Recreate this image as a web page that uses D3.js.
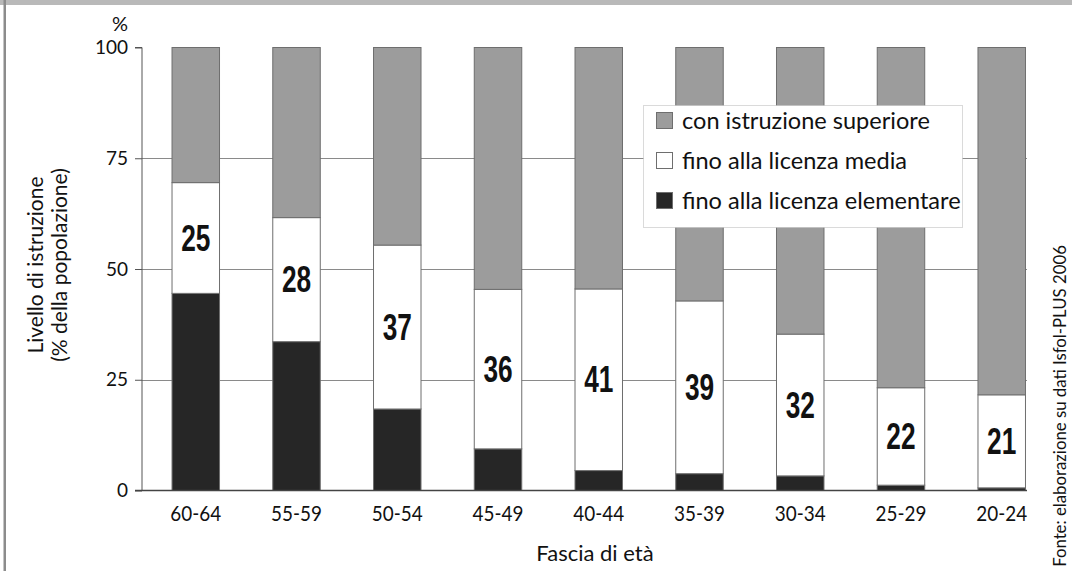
<!DOCTYPE html>
<html>
<head>
<meta charset="utf-8">
<script src="https://cdn.jsdelivr.net/npm/d3@7"></script>
<style>
  html, body { margin: 0; padding: 0; background: #fff; }
  svg { display: block; }
  text { font-family: Lato, "Open Sans", sans-serif; fill: #111; }
</style>
</head>
<body>
<svg id="chart" width="1072" height="571"></svg>
<script>
// Età (fasce quinquennali) e livello di istruzione, % della popolazione
const categories = ["60-64", "55-59", "50-54", "45-49", "40-44", "35-39", "30-34", "25-29", "20-24"];
const elementare = [44.5, 33.6, 18.4, 9.4, 4.5, 3.8, 3.3, 1.2, 0.6];
const media      = [25, 28, 37, 36, 41, 39, 32, 22, 21];
const superiore  = [30.5, 38.4, 44.6, 54.6, 54.5, 57.2, 64.7, 76.8, 78.4];
const yTicks = [0, 25, 50, 75, 100];
const seriesKeys = ["elementare", "media", "superiore"];
const legendLabels = {
  superiore: "con istruzione superiore",
  media: "fino alla licenza media",
  elementare: "fino alla licenza elementare"
};

const colors = { elementare: "#262626", media: "#ffffff", superiore: "#9c9c9c" };

const rows = categories.map((c, i) => ({
  cat: c, elementare: elementare[i], media: media[i], superiore: superiore[i]
}));

const svg = d3.select("#chart");

// pick a font size so that a text spans the given length
function fitSize(sel, length, base = 20) {
  sel.style("font-size", base + "px");
  const size = base * length / sel.node().getComputedTextLength();
  sel.style("font-size", size.toFixed(2) + "px");
  return size;
}

// frame: textured band on top and thin rule on the left
svg.append("rect").attr("x", 0).attr("y", 0).attr("width", 1072).attr("height", 5).attr("fill", "#b9b9b9");
svg.append("rect").attr("x", 3.5).attr("y", 0).attr("width", 2.5).attr("height", 571).attr("fill", "#8c8c8c");

const plotLeft = 142, plotRight = 1027;
const y = d3.scaleLinear().domain([0, 100]).range([490.5, 47.5]);
const x = d3.scaleBand().domain(categories)
  .range([145.4, 1052.1]).paddingInner(0.5286).paddingOuter(0.2643);

// horizontal reference lines
svg.append("g").selectAll("line")
  .data(yTicks.filter(t => t > 0 && t < 100))
  .join("line")
  .attr("x1", plotLeft).attr("x2", plotRight)
  .attr("y1", d => Math.round(y(d)) + 0.5).attr("y2", d => Math.round(y(d)) + 0.5)
  .attr("stroke", "#8a8a8a").attr("stroke-width", 1);

// stacked bars
const stacked = d3.stack().keys(seriesKeys)(rows);
svg.append("g").selectAll("g")
  .data(stacked)
  .join("g")
  .attr("fill", d => colors[d.key])
  .selectAll("rect")
  .data(d => d)
  .join("rect")
  .attr("x", d => x(d.data.cat))
  .attr("y", d => y(d[1]))
  .attr("width", x.bandwidth())
  .attr("height", d => y(d[0]) - y(d[1]))
  .attr("stroke", "#6e6e6e").attr("stroke-width", 1);

// value labels in the middle segment (bold, condensed)
svg.append("g").selectAll("text")
  .data(rows)
  .join("text")
  .attr("transform", d => `translate(${x(d.cat) + x.bandwidth() / 2},${y(d.elementare + d.media / 2)}) scale(0.71,1)`)
  .attr("text-anchor", "middle")
  .attr("dominant-baseline", "central")
  .style("font-family", "'Liberation Sans', Arial, sans-serif")
  .style("font-weight", "bold")
  .style("font-size", "37px")
  .text(d => d.media);

// y axis
const yAxis = d3.axisLeft(y).tickValues(yTicks).tickSize(7).tickPadding(7);
const gy = svg.append("g").attr("transform", `translate(${plotLeft},0)`).call(yAxis);
gy.select(".domain").attr("stroke", "#555").attr("d", `M-7,${y(100)}H0V${y(0)}`);
gy.selectAll(".tick line").attr("stroke", "#555");
gy.selectAll(".tick text").style("font-size", "19px").style("font-family", "Lato, sans-serif").attr("fill", "#111");

// x axis
const xAxis = d3.axisBottom(x).tickSize(0).tickPadding(16);
const gx = svg.append("g").attr("transform", `translate(0,${y(0)})`).call(xAxis);
gx.select(".domain").attr("stroke", "#444").attr("stroke-width", 1.5)
  .attr("d", `M${plotLeft - 7},0H${plotRight}`);
gx.selectAll(".tick text")
  .style("font-size", "21px").style("font-family", "Lato, sans-serif").attr("fill", "#111")
  .attr("transform", "scale(0.9,1)");

// unit above the y axis
svg.append("text").attr("x", 120).attr("y", 31).attr("text-anchor", "middle")
  .style("font-size", "20px").text("%");

// x axis title
svg.append("text").attr("text-anchor", "middle")
  .attr("x", 595).attr("y", 561)
  .style("font-size", "22px")
  .text("Fascia di età");

// y axis title, two lines
const yTitle = svg.append("text").attr("text-anchor", "middle")
  .attr("transform", "translate(36,265) rotate(-90)")
  .style("font-size", "21px");
yTitle.append("tspan").attr("x", 0).attr("y", 7).text("Livello di istruzione");
yTitle.append("tspan").attr("x", 0).attr("y", 31).text("(% della popolazione)");

// source note
const src = svg.append("text").attr("text-anchor", "middle")
  .attr("transform", "translate(1066,406) rotate(-90)")
  .text("Fonte: elaborazione su dati Isfol-PLUS 2006");
fitSize(src, 322);

// legend
const lg = svg.append("g");
lg.append("rect").attr("x", 643.5).attr("y", 105.5).attr("width", 319).attr("height", 122)
  .attr("fill", "#fff").attr("stroke", "#b5b5b5").attr("stroke-dasharray", "1,1");
const legendOrder = ["superiore", "media", "elementare"];
let legendSize = null;
legendOrder.forEach((k, i) => {
  const cy = 120 + i * 40;
  lg.append("rect").attr("x", 656.5).attr("y", cy - 7.5).attr("width", 16).attr("height", 16)
    .attr("fill", colors[k]).attr("stroke", "#6e6e6e");
  const t = lg.append("text").attr("x", 682).attr("y", cy).attr("dominant-baseline", "central")
    .text(legendLabels[k]);
  if (legendSize === null) legendSize = fitSize(t, 248);
  else t.style("font-size", legendSize.toFixed(2) + "px");
});
</script>
</body>
</html>
